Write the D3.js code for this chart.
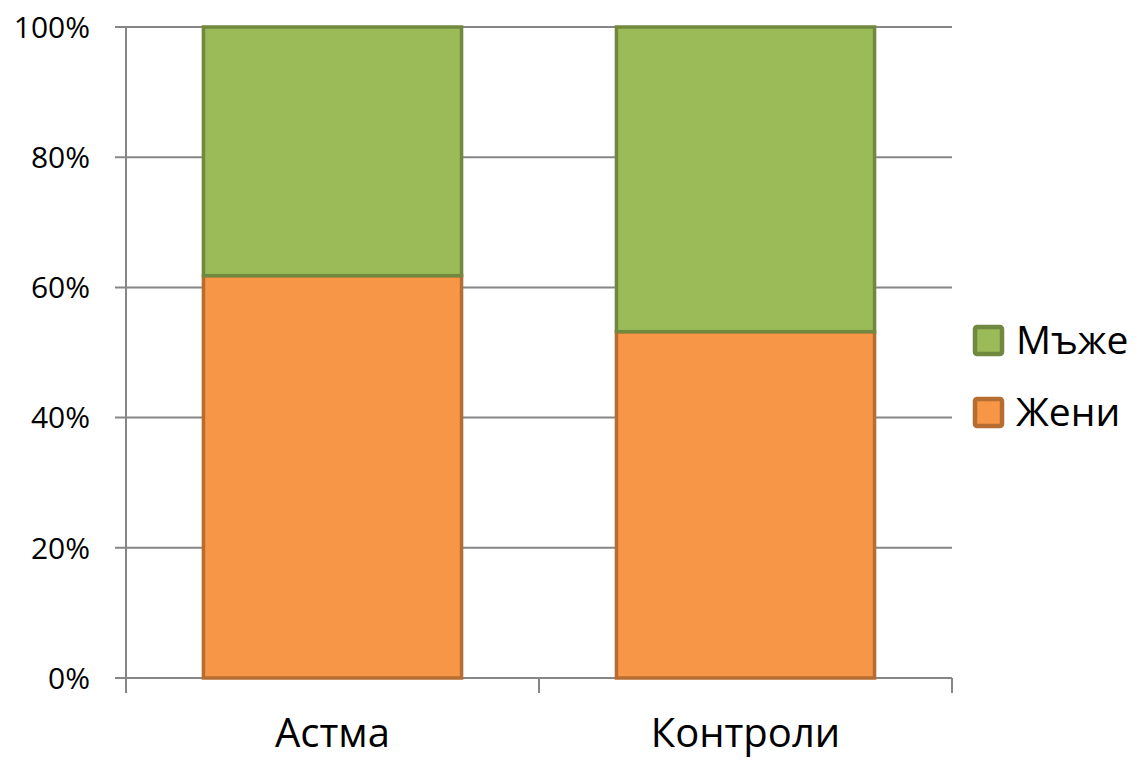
<!DOCTYPE html>
<html>
<head>
<meta charset="utf-8">
<script src="https://cdn.jsdelivr.net/npm/d3@7"></script>
<style>
  body { margin: 0; background: #fff; }
  text { font-family: "Open Sans", "Noto Sans", sans-serif; fill: #000; }
</style>
</head>
<body>
<svg id="chart" width="1141" height="760"></svg>
<script>
// Gender share per group (percent of each group)
const categories = ["Астма", "Контроли"];
const seriesNames = ["Жени", "Мъже"];
const women = [61.8, 53.2];
const men = [38.2, 46.8];
const yTicks = [0, 20, 40, 60, 80, 100];

const colors = {
  "Жени": { fill: "#F79646", stroke: "#B66D31" },
  "Мъже": { fill: "#9BBB59", stroke: "#71893F" }
};

const svg = d3.select("#chart");
const plot = { left: 126, right: 952, top: 27, bottom: 678 };

const x = d3.scaleBand().domain(categories)
  .range([plot.left, plot.right]).paddingInner(0.375).paddingOuter(0.1875);
const y = d3.scaleLinear().domain([0, 100]).range([plot.bottom, plot.top]);

const rows = categories.map((c, i) => ({ cat: c, "Жени": women[i], "Мъже": men[i] }));
const stacked = d3.stack().keys(seriesNames)(rows);

// Horizontal gridlines
svg.append("g").selectAll("line").data(yTicks).join("line")
  .attr("x1", plot.left - 11).attr("x2", plot.right)
  .attr("y1", d => y(d)).attr("y2", d => y(d))
  .attr("stroke", "#868686").attr("stroke-width", 2);

// Y axis line
svg.append("line")
  .attr("x1", plot.left).attr("x2", plot.left)
  .attr("y1", plot.top).attr("y2", plot.bottom + 15)
  .attr("stroke", "#868686").attr("stroke-width", 2);

// Category boundary ticks on the x axis
const boundaries = [plot.left, (plot.left + plot.right) / 2, plot.right];
svg.append("g").selectAll("line").data(boundaries).join("line")
  .attr("x1", d => d).attr("x2", d => d)
  .attr("y1", plot.bottom).attr("y2", plot.bottom + 15)
  .attr("stroke", "#868686").attr("stroke-width", 2);

// Y tick labels
svg.append("g").selectAll("text").data(yTicks).join("text")
  .attr("x", plot.left - 36).attr("y", d => y(d))
  .attr("dy", "0.36em")
  .attr("text-anchor", "end")
  .style("font-size", "30px")
  .text(d => d + "%");

// Stacked bars
stacked.forEach(layer => {
  svg.append("g").selectAll("rect").data(layer).join("rect")
    .attr("x", d => x(d.data.cat))
    .attr("width", x.bandwidth())
    .attr("y", d => y(d[1]))
    .attr("height", d => y(d[0]) - y(d[1]))
    .attr("fill", colors[layer.key].fill)
    .attr("stroke", colors[layer.key].stroke)
    .attr("stroke-width", 3.5);
});

// Category labels
svg.append("g").selectAll("text").data(categories).join("text")
  .attr("x", d => x(d) + x.bandwidth() / 2)
  .attr("y", 747)
  .attr("text-anchor", "middle")
  .style("font-size", "40px")
  .text(d => d);

// Legend (top entry is the upper segment)
const legendItems = ["Мъже", "Жени"];
const legend = svg.append("g").attr("transform", "translate(975,327)");
legendItems.forEach((k, i) => {
  const g = legend.append("g").attr("transform", `translate(0,${i * 72})`);
  g.append("rect").attr("x", 0).attr("y", 0).attr("width", 27).attr("height", 27)
    .attr("rx", 2)
    .attr("fill", colors[k].fill).attr("stroke", colors[k].stroke).attr("stroke-width", 4.5);
  g.append("text").attr("x", 41).attr("y", 27)
    .style("font-size", "39px").text(k);
});
</script>
</body>
</html>
